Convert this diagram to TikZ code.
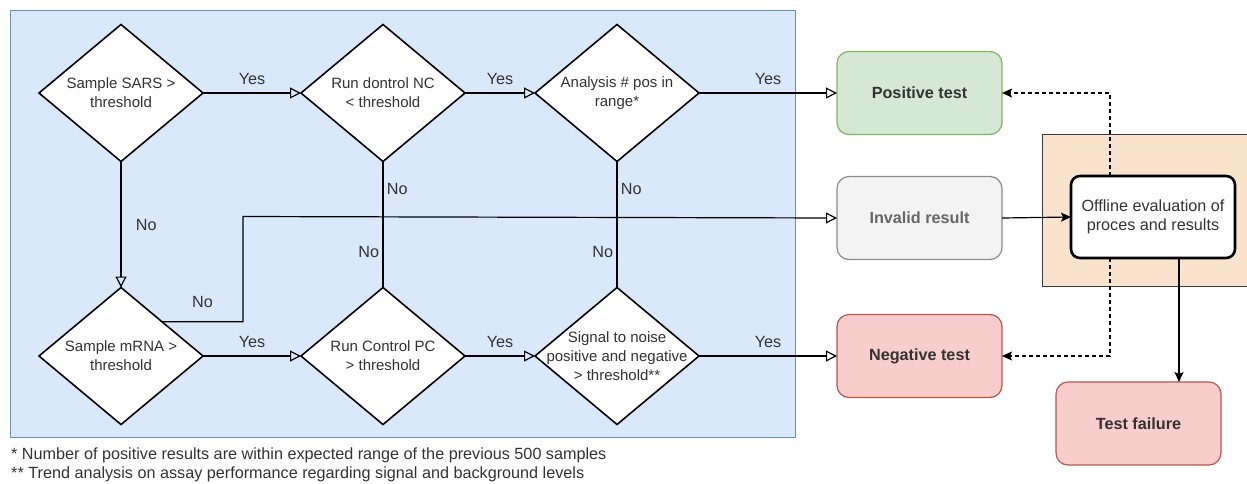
\documentclass[tikz,border=0pt]{standalone}
\usepackage{fontspec}
\setmainfont{Liberation Sans}
\usetikzlibrary{
  arrows.meta,
  shapes.geometric,
  positioning
}
\definecolor{fcBlue}{HTML}{DAE8FC}
\definecolor{fcBlueLine}{HTML}{6C8EBF}
\definecolor{fcGreen}{HTML}{D5E8D4}
\definecolor{fcGreenLine}{HTML}{82B366}
\definecolor{fcGray}{HTML}{F3F3F3}
\definecolor{fcGrayLine}{HTML}{8C8C8C}
\definecolor{fcRed}{HTML}{F8CECC}
\definecolor{fcRedLine}{HTML}{B85450}
\definecolor{fcOrange}{HTML}{FAE3CC}
\definecolor{fcOrangeLine}{HTML}{3A3A3A}
\definecolor{fcText}{HTML}{333333}
\tikzset{
  fcfont/.style={font=\fontsize{16.2}{19}\selectfont},
  dfont/.style={font=\fontsize{15}{18.8}\selectfont},
  decision/.style={
    draw, diamond, fill=white, line width=1.6pt, inner sep=0pt, outer sep=0pt,
    minimum width=164pt, minimum height=137pt
  },
  dtext/.style={dfont, align=center, text=fcText},
  result/.style={
    draw, rounded corners=12pt, line width=1.2pt, minimum width=165pt, outer sep=0pt,
    minimum height=83pt, font=\fontsize{16.2}{19}\selectfont\bfseries, text=fcText
  },
  posbox/.style={result, fill=fcGreen, draw=fcGreenLine},
  invbox/.style={result, fill=fcGray, draw=fcGrayLine, text=black!60},
  negbox/.style={result, fill=fcRed, draw=fcRedLine},
  evalbox/.style={
    draw, rounded corners=9pt, line width=2.6pt, fill=white, minimum width=164pt,
    minimum height=82pt, outer sep=0pt, fcfont, align=center, text=fcText
  },
  panel/.style={line width=0.8pt},
  yesno/.style={fcfont, text=fcText},
  flow/.style={-{Triangle[open, length=11pt, width=11pt]}, line width=1.2pt},
  link/.style={line width=1.2pt},
  solidflow/.style={-{Stealth[length=10pt, width=9pt, inset=2pt]}, line width=1.2pt},
  dashflow/.style={-{Stealth[length=10pt, width=9pt, inset=2pt]}, line width=1.2pt, dash pattern=on 4pt off 3pt}
}

\begin{document}
\begin{tikzpicture}[x=1pt, y=-1pt]
  \useasboundingbox (0,0) rectangle (1247,483);
  % containers
  \draw[panel, fill=fcBlue, draw=fcBlueLine] (10,10) rectangle (795,437);
  \draw[panel, fill=fcOrange, draw=fcOrangeLine] (1042,134) rectangle (1252,286);

  % decisions
  \node[decision, label={[dtext]center:Sample SARS >\\threshold}] (sars) at (121,93) {};
  \node[decision, right=98pt of sars, label={[dtext]center:Run dontrol NC\\< threshold}] (nc) {};
  \node[decision, right=70pt of nc, label={[dtext]center:Analysis \# pos in\\range*}] (range) {};
  \node[decision, below=126pt of sars, label={[dtext]center:Sample mRNA >\\threshold}] (mrna) {};
  \node[decision, below=126pt of nc, label={[dtext]center:Run Control PC\\> threshold}] (pc) {};
  \node[decision, below=126pt of range, label={[dtext]center:Signal to noise\\positive and negative\\> threshold**}] (snr) {};

  % results
  \node[posbox, right=138pt of range] (pos) {Positive test};
  \node[invbox, below=42pt of pos] (inv) {Invalid result};
  \node[negbox, below=55pt of inv] (neg) {Negative test};
  \node[evalbox] (eval) at (1153,217) {Offline evaluation of\\proces and results};
  \node[negbox] (fail) at (1138.5,423.5) {Test failure};
  \coordinate (join) at (243,216.5);

  % notes
  \node[fcfont, text=fcText, anchor=west, inner sep=0pt] (note1) at (11,455) {* Number of positive results are within expected range of the previous 500 samples};
  \node[fcfont, text=fcText, anchor=west, inner sep=0pt] (note2) at (11,474) {** Trend analysis on assay performance regarding signal and background levels};

  % yes branches
  \foreach \s/\e in {sars/nc, nc/range, range/pos, mrna/pc, pc/snr, snr/neg}{
    \draw[flow] (\s.east) -- node[yesno, above=4pt]{Yes} (\e.west);
  }

  % no branches
  \draw[flow] (sars.south) -- node[yesno, right=11pt]{No} (mrna.north);
  \draw[flow] (mrna.north east) -| node[yesno, above=10pt, pos=.25]{No} (join) -- (inv.west);
  \draw[link] (nc.south) -- node[yesno, right]{No} (nc.south |- join);
  \draw[link] (pc.north) -- node[yesno, left]{No} (pc.north |- join);
  \draw[link] (range.south) -- node[yesno, right]{No} (range.south |- join);
  \draw[link] (snr.north) -- node[yesno, left]{No} (snr.north |- join);

  % offline evaluation
  \draw[solidflow] (inv.east) -- (eval.west);
  \draw[dashflow] ([xshift=-43pt]eval.north) |- (pos.east);
  \draw[dashflow] ([xshift=-43pt]eval.south) |- (neg.east);
  \draw[solidflow] ([xshift=26pt]eval.south) -- ([xshift=26pt]eval.south |- fail.north);
\end{tikzpicture}
\end{document}
